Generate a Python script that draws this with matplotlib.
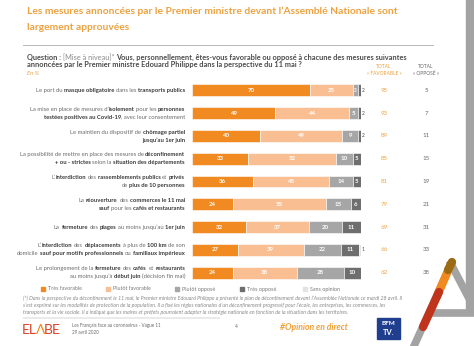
import matplotlib
matplotlib.use("Agg")
import matplotlib.pyplot as plt
import numpy as np
from matplotlib.lines import Line2D
from matplotlib.patches import Rectangle
from matplotlib.transforms import IdentityTransform

W, H = 474, 346
plt.rcParams['font.family'] = ['Lato', 'DejaVu Sans']

# --- data -----------------------------------------------------------------
labels = [
    "Le port du **masque obligatoire** dans les **transports publics**",
    "La mise en place de mesures d’**isolement** pour les **personnes**\n"
    "**testées positives au Covid-19**, avec leur consentement",
    "Le maintien du dispositif de **chômage partiel**\n**jusqu’au 1er juin**",
    "La possibilité de mettre en place des mesures de **déconfinement**\n"
    "**+ ou - strictes** selon la **situation des départements**",
    "L’**interdiction** des **rassemblements publics** et **privés**\n"
    "de **plus de 10 personnes**",
    "La **réouverture** des **commerces le 11 mai**\n**sauf** pour les **cafés et restaurants**",
    "La **fermeture** des **plages** au moins jusqu’au **1er juin**",
    "L’**interdiction** des **déplacements** à plus de **100 km** de son\n"
    "domicile **sauf pour motifs professionnels** ou **familiaux impérieux**",
    "Le prolongement de la **fermeture** des **cafés** et **restaurants**\n"
    "au moins jusqu’à **début juin** (décision fin mai)",
]
tres_fav = [70, 49, 40, 33, 36, 24, 32, 27, 24]
plutot_fav = [25, 44, 49, 52, 45, 55, 37, 39, 38]
plutot_opp = [3, 5, 9, 10, 14, 15, 20, 22, 28]
tres_opp = [2, 2, 2, 5, 5, 6, 11, 11, 10]
sans_opinion = [0, 0, 0, 0, 0, 0, 0, 1, 0]
total_fav = [95, 93, 89, 85, 81, 79, 69, 66, 62]
total_opp = [5, 7, 11, 15, 19, 21, 31, 33, 38]

series_names = ['Très favorable', 'Plutôt favorable', 'Plutôt opposé', 'Très opposé', 'Sans opinion']
series_colors = ['#F28A22', '#F9BF92', '#A6A6A6', '#6E6E6E', '#E3E3E3']

ORANGE_TXT = '#ECA23F'
DARK = '#3A3A3A'
MID = '#6A6A6A'

fig = plt.figure(figsize=(W / 100, H / 100), dpi=100)
fig.patch.set_facecolor('white')
renderer = fig.canvas.get_renderer()
ident = IdentityTransform()


def text_width(s, size, weight='normal'):
    t = fig.text(0, 0, s, fontsize=size, fontweight=weight)
    w = t.get_window_extent(renderer).width
    t.remove()
    return w


def advance(s, size, weight='normal'):
    # width of s including its spaces, bearings cancelled by the bars
    return text_width('|' + s + '|', size, weight) - text_width('||', size, weight)


def rich_line(x, y, line, size, color=MID, bold_color=DARK, ha='left'):
    # '**' toggles bold; x, y in picture pixels (y from top)
    pieces = []
    total = 0
    for i, s in enumerate(line.split('**')):
        if not s:
            continue
        weight = 'bold' if i % 2 == 1 else 'normal'
        lead = len(s) - len(s.lstrip(' '))
        core = s.strip(' ')
        lead_w = advance(' ' * lead, size, weight) if lead else 0
        pieces.append((total + lead_w, core, weight))
        total += advance(s, size, weight)
    x0 = x - total if ha == 'right' else x
    for off, core, weight in pieces:
        if core:
            fig.text(x0 + off, H - y, core, fontsize=size, fontweight=weight,
                     color=bold_color if weight == 'bold' else color,
                     ha='left', va='center', transform=ident)


def ftext(x, y, s, **kw):
    kw.setdefault('transform', ident)
    return fig.text(x, H - y, s, **kw)


def pline(xs, ys, **kw):
    fig.add_artist(Line2D(xs, [H - v for v in ys], transform=ident, **kw))


# --- header ---------------------------------------------------------------
ftext(27, 11, "Les mesures annoncées par le Premier ministre devant l’Assemblé Nationale sont",
      fontsize=7.4, fontweight='bold', color=ORANGE_TXT, va='center')
ftext(27, 27, "largement approuvées", fontsize=7.4, fontweight='bold',
      color=ORANGE_TXT, va='center')
pline([23, 433], [44.5, 44.5], color='#B8B8B8', lw=0.7)

rich_line(27, 57.5, "**Question :** [Mise à niveau]* **Vous, personnellement, êtes-vous favorable "
          "ou opposé à chacune des mesures suivantes**", 5.35, color='#8A8A8A', bold_color='#4A4A4A')
rich_line(27, 65, "**annoncées par le Premier ministre Edouard Philippe dans la perspective du 11 mai ?**",
          5.35, color='#8A8A8A', bold_color='#4A4A4A')
ftext(27, 73.5, "En %", fontsize=4.2, fontstyle='italic', color=ORANGE_TXT, va='center')

ftext(384, 67, "TOTAL", fontsize=3.5, color=ORANGE_TXT, ha='center', va='center')
ftext(384, 73.5, "« FAVORABLE »", fontsize=3.5, color=ORANGE_TXT, ha='center', va='center')
ftext(426, 67, "TOTAL", fontsize=3.5, color=MID, ha='center', va='center')
ftext(426, 73.5, "« OPPOSÉ »", fontsize=3.5, color=MID, ha='center', va='center')

# --- bars -----------------------------------------------------------------
ax = fig.add_axes([192 / W, 1 - 284 / H, 169 / W, 205 / H])
rows = np.arange(len(labels))
series = [tres_fav, plutot_fav, plutot_opp, tres_opp, sans_opinion]
left = np.zeros(len(labels))
for vals, col in zip(series, series_colors):
    vals = np.array(vals, dtype=float)
    ax.barh(rows, vals, left=left, height=0.52, color=col, edgecolor='white', linewidth=0.4)
    for r, (l, v) in enumerate(zip(left, vals)):
        if v >= 3:
            ax.text(l + v / 2, r, f"{int(v)}", color='white', fontsize=4.4 if v >= 5 else 3.4,
                    fontweight='bold', ha='center', va='center')
    left += vals
ax.set_xlim(0, 100)
ax.set_ylim(len(labels) - 0.5, -0.5)
ax.axis('off')

# small values shown beside the bar end
for r in rows:
    small = [v for v in (tres_opp[r], sans_opinion[r]) if 0 < v < 3]
    for k, v in enumerate(small):
        ax.text(100.6 + k * 1.6, r, f"{v}", color='#404040', fontsize=3.4,
                ha='left', va='center', clip_on=False)

# labels + totals
for r, lab in enumerate(labels):
    yc = H - ax.transData.transform((0, r))[1]
    lines = lab.split('\n')
    offs = [0] if len(lines) == 1 else [-3.9, 3.9]
    for line, o in zip(lines, offs):
        rich_line(185, yc + o, line, 4.2, ha='right')
    ftext(384, yc, f"{total_fav[r]}", fontsize=4.4, color=ORANGE_TXT, ha='center', va='center')
    ftext(426, yc, f"{total_opp[r]}", fontsize=4.4, color=MID, ha='center', va='center')

# --- legend ---------------------------------------------------------------
leg_x = [43, 108, 177, 242, 305]
for x, name, col in zip(leg_x, series_names, series_colors):
    fig.add_artist(Line2D([x], [H - 289], marker='s', markersize=2.2, color=col,
                          linestyle='none', transform=ident))
    ftext(x + 5, 289, name, fontsize=3.9, color='#7A7A7A', va='center')

# --- footnote -------------------------------------------------------------
notes = [
    "(*) Dans la perspective du déconfinement le 11 mai, le Premier ministre Edouard Philippe a présenté le plan "
    "de déconfinement devant l’Assemblée Nationale ce mardi 28 avril. Il",
    "s’est exprimé sur les modalités de protection de la population. Il a fixé les règles nationales d’un "
    "déconfinement progressif pour l’école, les entreprises, les commerces, les",
    "transports et la vie sociale. Il a indiqué que les maires et préfets pourraient adapter la stratégie "
    "nationale en fonction de la situation dans les territoires.",
]
for i, n in enumerate(notes):
    ftext(23, 298 + i * 7, n, fontsize=3.8, fontstyle='italic', color='#8A8A8A', va='center')
pline([23, 220], [317.5, 317.5], color='#9A9A9A', lw=0.3)

# --- footer ---------------------------------------------------------------
ftext(22, 330, "EL", fontsize=10, color='#D9412B', va='center')
ftext(36, 330, "Λ", fontsize=10, color='#F08A1E', va='center')
ftext(44, 330, "BE", fontsize=10, color='#D9412B', va='center')
ftext(72, 325.5, "Les Français face au coronavirus - Vague 11", fontsize=3.3, color='#6A6A6A', va='center')
ftext(72, 332, "29 avril 2020", fontsize=3.3, color='#6A6A6A', va='center')
ftext(235, 326, "4", fontsize=3.3, color='#6A6A6A', va='center')
ftext(280, 328, "#Opinion en direct", fontsize=6.2, fontweight='bold', fontstyle='italic',
      color='#F0A03A', va='center')
fig.add_artist(Rectangle((377, H - 339), 23, 21, transform=ident, color='#1F3E8E'))
ftext(388.5, 323.5, "BFM", fontsize=4.6, fontweight='bold', color='white', ha='center', va='center')
ftext(388.5, 332.5, "TV.", fontsize=5.4, fontweight='bold', color='white', ha='center', va='center')

# right strip + "A" mark
fig.add_artist(Rectangle((466, H - 312), 8, 312, transform=ident, color='#A3A3A3'))
pline([433, 474], [313, 313], color='#A3A3A3', lw=5.5)
pline([451, 474], [264, 308], color='#A3A3A3', lw=5.5)
pline([414, 451], [346, 264], color='#A3A3A3', lw=5.5)
pline([437, 451], [296, 264], color='#F08A1E', lw=6, solid_capstyle='round')
pline([423, 439], [327, 292], color='#C0341C', lw=6, solid_capstyle='round')
pline([448, 452], [270, 262], color='#9B6A12', lw=6, solid_capstyle='round')

fig.savefig('out.png', dpi=100, facecolor='white')
